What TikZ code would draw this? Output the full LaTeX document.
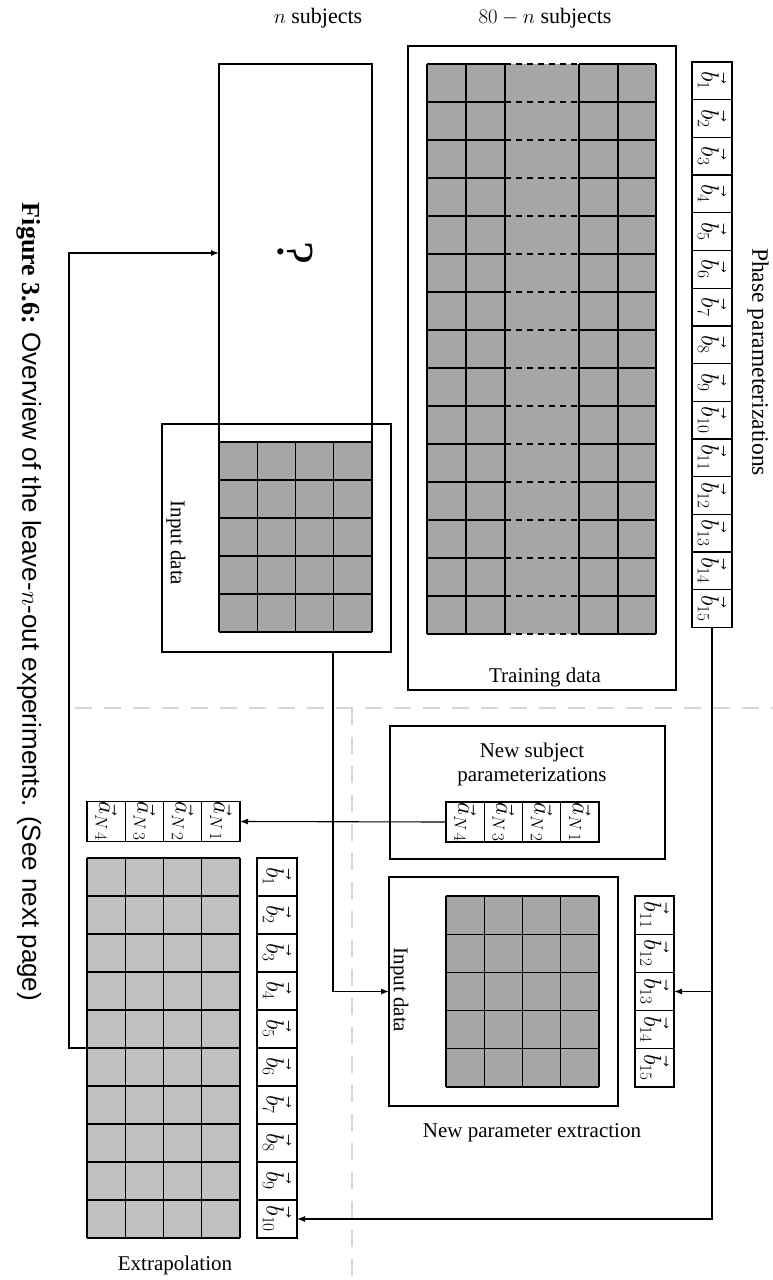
\documentclass[tikz,border=0pt]{standalone}
\usepackage{graphicx}
\usepackage{fontspec}
\setmainfont{Liberation Serif}
\setsansfont{Liberation Sans}
\usetikzlibrary{arrows.meta}
\definecolor{darkcell}{HTML}{A6A6A6}
\definecolor{lightcell}{HTML}{C0C0C0}
\definecolor{sepgray}{HTML}{D6D6D6}
\begin{document}
\begin{tikzpicture}[x=1pt,y=-1pt,
  every node/.style={inner sep=0pt, outer sep=0pt},
  lbl/.style={font=\fontsize{21}{24}\selectfont},
  box/.style={draw, line width=1.1pt},
  gl/.style={line width=1.3pt},
  gdash/.style={line width=1.3pt, dash pattern=on 6pt off 5pt},
  cellbase/.style={draw, line width=1.3pt, fill=white, font=\fontsize{25}{28}\selectfont},
  pcell/.style={cellbase, minimum width=40pt, minimum height=37.7pt},
  ncell/.style={cellbase, minimum width=39pt, minimum height=38.2pt},
  ecell/.style={cellbase, minimum width=40pt, minimum height=38pt},
  acell/.style={cellbase, minimum width=38.25pt, minimum height=40pt},
  conn/.style={line width=1.1pt},
  arr/.style={-{Latex[length=8pt,width=6pt]}},
  sep/.style={draw=sepgray, line width=1.2pt, dash pattern=on 17pt off 12pt}
]
\useasboundingbox (0,0) rectangle (773,1280);

% column headings
\node[font=\fontsize{22}{25}\selectfont] (hn) at (318,18) {$n$ subjects};
\node[font=\fontsize{22}{25}\selectfont] (hm) at (545,18) {$80-n$ subjects};

% ---------- training data ----------
\node[box, minimum width=268pt, minimum height=644pt] (train) at (542,368) {};
\node[fill=darkcell, minimum width=229pt, minimum height=570pt] (tgrid) at (541.5,349) {};
\foreach \y in {64,102,...,634} {
  \draw[gl] (427,\y) -- (505,\y);
  \draw[gdash] (505,\y) -- (579,\y);
  \draw[gl] (579,\y) -- (656,\y);
}
\foreach \x in {427,466,505,579,618,656} \draw[gl] (\x,64) -- (\x,634);
\node[lbl] (tlab) at (545,677) {Training data};

% ---------- phase parameterizations ----------
\foreach \i in {1,...,15}
  \node[pcell] (p\i) at (712,{62+37.7*(\i-0.5)}) {\rotatebox{-90}{$\vec{b}_{\i}$}};
\node[font=\fontsize{23.5}{26}\selectfont] (plab) at (758,362) {\rotatebox{-90}{Phase parameterizations}};

% ---------- input data with unknown part ----------
\node[box, minimum width=229pt, minimum height=228pt] (indata) at (276.5,538) {};
\node[box, minimum width=153pt, minimum height=378pt] (qbox) at (295.5,253)
  {\rotatebox{-90}{\fontsize{52}{60}\selectfont ?}};
\node[fill=darkcell, minimum width=153pt, minimum height=190pt] (igrid) at (295.5,537) {};
\foreach \i in {0,...,4} \draw[gl] ({219+38.25*\i},442) -- ({219+38.25*\i},632);
\foreach \j in {0,...,5} \draw[gl] (219,{442+38*\j}) -- (372,{442+38*\j});
\node[lbl] (ilab1) at (176,543) {\rotatebox{-90}{Input data}};

% ---------- new subject parameterizations ----------
\node[box, minimum width=275pt, minimum height=133pt] (nsp) at (527.5,792.5) {};
\node[lbl, align=center] (nsplab) at (532,764) {New subject\\parameterizations};
\foreach \n [count=\i] in {4,3,2,1}
  \node[acell] (na\n) at ({446+38.25*(\i-0.5)},822) {\rotatebox{-90}{$\vec{a}_{N\,\n}$}};

% ---------- new parameter extraction ----------
\node[box, minimum width=229pt, minimum height=229pt] (npe) at (503.5,991.5) {};
\node[fill=darkcell, minimum width=153pt, minimum height=191pt] (ngrid) at (522.5,991.5) {};
\foreach \i in {0,...,4} \draw[gl] ({446+38.25*\i},896) -- ({446+38.25*\i},1087);
\foreach \j in {0,...,5} \draw[gl] (446,{896+38.2*\j}) -- (599,{896+38.2*\j});
\node[lbl] (ilab2) at (399,990) {\rotatebox{-90}{Input data}};
\foreach \k [count=\i] in {11,...,15}
  \node[ncell] (nb\k) at (654.5,{896+38.2*(\i-0.5)}) {\rotatebox{-90}{$\vec{b}_{\k}$}};
\node[lbl] (npelab) at (532,1133) {New parameter extraction};

% ---------- extrapolation ----------
\foreach \n [count=\i] in {4,3,2,1}
  \node[acell] (la\n) at ({87+38.25*(\i-0.5)},821.5) {\rotatebox{-90}{$\vec{a}_{N\,\n}$}};
\node[fill=lightcell, minimum width=153pt, minimum height=380pt] (egrid) at (163.5,1048) {};
\foreach \i in {0,...,4} \draw[gl] ({87+38.25*\i},858) -- ({87+38.25*\i},1238);
\foreach \j in {0,...,10} \draw[gl] (87,{858+38*\j}) -- (240,{858+38*\j});
\foreach \i in {1,...,10}
  \node[ecell] (eb\i) at (277,{858+38*(\i-0.5)}) {\rotatebox{-90}{$\vec{b}_{\i}$}};
\node[lbl] (elab) at (175,1265) {Extrapolation};

% ---------- separators ----------
\draw[sep] (75,708) -- (773,708);
\draw[sep] (352,708) -- (352,1280);

% ---------- connectors ----------
\draw[conn,arr] (p15.south) |- (eb10.east);
\draw[conn,arr] (p15.south |- nb13.east) -- (nb13.east);
\draw[conn,arr] ([xshift=56.5pt]indata.south) |- (npe.west);
\draw[conn,arr] (na4.west) -- (la1.east);
\draw[conn,arr] (egrid.west) -- ++(-18,0) |- (qbox.west);

% ---------- caption ----------
\node[font=\fontsize{26}{30}\selectfont] (cap) at (29,602)
  {\rotatebox{-90}{\textbf{Figure 3.6:} {\sffamily Overview of the leave-$n$-out experiments. (See next page)}}};
\end{tikzpicture}
\end{document}
